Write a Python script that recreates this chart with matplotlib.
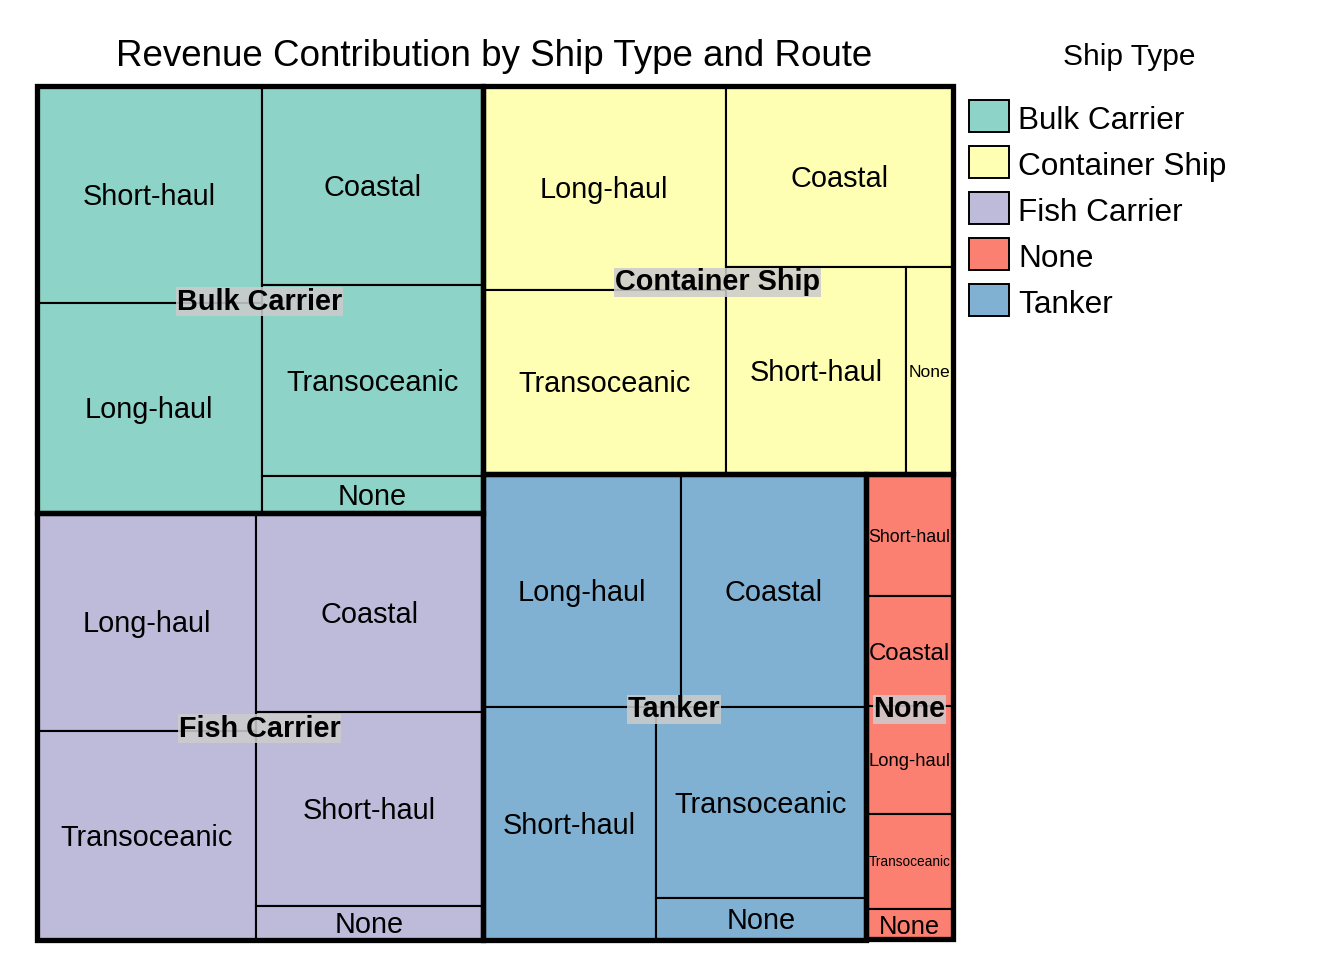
import matplotlib
matplotlib.use('Agg')
import matplotlib.pyplot as plt
from matplotlib.patches import Rectangle
from matplotlib.transforms import offset_copy

plt.rcParams['font.family'] = ['Liberation Sans', 'DejaVu Sans']

# revenue by ship type and route
ship_types = ['Bulk Carrier', 'Container Ship', 'Fish Carrier', 'None', 'Tanker']
routes = ['Short-haul', 'Long-haul', 'Coastal', 'Transoceanic', 'None']
bulk_carrier = [48.9, 47.4, 43.9, 42.1, 8.2]
container_ship = [37.2, 49.7, 41.0, 44.8, 9.7]
fish_carrier = [43.9, 47.9, 45.1, 45.8, 7.6]
none_type = [10.6, 9.3, 9.5, 8.3, 2.6]
tanker = [40.3, 46.3, 43.1, 40.1, 8.7]
revenue = [bulk_carrier, container_ship, fish_carrier, none_type, tanker]

colors = ['#8DD3C7', '#FFFFB3', '#BEBADA', '#FB8072', '#80B1D3']


def worst(row, side):
    s = sum(row)
    return max(max(side * side * r / (s * s), s * s / (side * side * r)) for r in row)


def squarify(vals, x, y, w, h):
    # vals must be sorted descending; returns (x, y, w, h) per value, y downward
    scale = w * h / sum(vals)
    areas = [v * scale for v in vals]
    rects = []
    i = 0
    while i < len(areas):
        side = min(w, h)
        row = [areas[i]]
        i += 1
        while i < len(areas) and worst(row + [areas[i]], side) <= worst(row, side):
            row.append(areas[i])
            i += 1
        s = sum(row)
        if w >= h:
            rw = s / h
            yy = y
            for a in row:
                rects.append((x, yy, rw, a / rw))
                yy += a / rw
            x += rw
            w -= rw
        else:
            rh = s / w
            xx = x
            for a in row:
                rects.append((xx, y, a / rh, rh))
                xx += a / rh
            y += rh
            h -= rh
    return rects


FW, FH = 1344, 960
fig = plt.figure(figsize=(FW / 100, FH / 100), dpi=100)
ax = fig.add_axes([36.5 / FW, (FH - 939.5) / FH, 916 / FW, 853.5 / FH])
ax.set_axis_off()
W, H = 916, 853.5
ax.set_xlim(0, W)
ax.set_ylim(H, 0)

fig.canvas.draw()
renderer = fig.canvas.get_renderer()

LABEL_FS = 20.8
px_per_pt = 100 / 72

totals = [sum(r) for r in revenue]
g_order = sorted(range(len(ship_types)), key=lambda k: -totals[k])
g_rects = squarify([totals[k] for k in g_order], 0, 0, W, H)

group_boxes = []
for gi, (gx, gy, gw, gh) in zip(g_order, g_rects):
    vals = revenue[gi]
    s_order = sorted(range(len(routes)), key=lambda k: -vals[k])
    s_rects = squarify([vals[k] for k in s_order], gx, gy, gw, gh)
    for si, (sx, sy, sw, sh) in zip(s_order, s_rects):
        ax.add_patch(Rectangle((sx, sy), sw, sh, facecolor=colors[gi],
                               edgecolor='black', linewidth=1.5, zorder=2))
        # shrink label to fit its tile
        t = ax.text(sx + sw / 2, sy + sh / 2, routes[si], fontsize=LABEL_FS,
                    ha='center', va='baseline', zorder=5)
        tw = t.get_window_extent(renderer).width
        em = LABEL_FS * px_per_pt
        f = min(1.0, (sw - 5) / tw, (sh - 4.5) / em)
        fs = LABEL_FS * f
        t.set_fontsize(fs)
        t.set_transform(offset_copy(ax.transData, fig=fig, y=-0.358 * fs, units='points'))
    group_boxes.append((gi, gx, gy, gw, gh))

for gi, gx, gy, gw, gh in group_boxes:
    ax.add_patch(Rectangle((gx, gy), gw, gh, facecolor='none', edgecolor='black',
                           linewidth=3.8, joinstyle='miter', zorder=4, clip_on=False))
    ax.text(gx + gw / 2, gy + gh / 2, ship_types[gi], fontsize=LABEL_FS,
            fontweight='bold', ha='center', va='baseline', zorder=6,
            transform=offset_copy(ax.transData, fig=fig, y=-0.358 * LABEL_FS, units='points'),
            bbox=dict(boxstyle='square,pad=0.02', facecolor=(0.8, 0.8, 0.8, 0.87),
                      edgecolor='none'))

fig.text(494.5 / FW, (FH - 66) / FH, 'Revenue Contribution by Ship Type and Route',
         fontsize=26.5, ha='center', va='baseline')

# legend
fig.text(1129 / FW, (FH - 65) / FH, 'Ship Type', fontsize=21.5, ha='center', va='baseline')
for i, name in enumerate(ship_types):
    top = 100 + i * 46.1
    fig.add_artist(Rectangle((969 / FW, (FH - top - 32) / FH), 40 / FW, 32 / FH,
                             transform=fig.transFigure, facecolor=colors[i],
                             edgecolor='black', linewidth=1.4))
    fig.text(1018 / FW, (FH - 129 - i * 46.1) / FH, name, fontsize=22.7,
             ha='left', va='baseline')

fig.savefig('out.png', dpi=100, facecolor='white')
